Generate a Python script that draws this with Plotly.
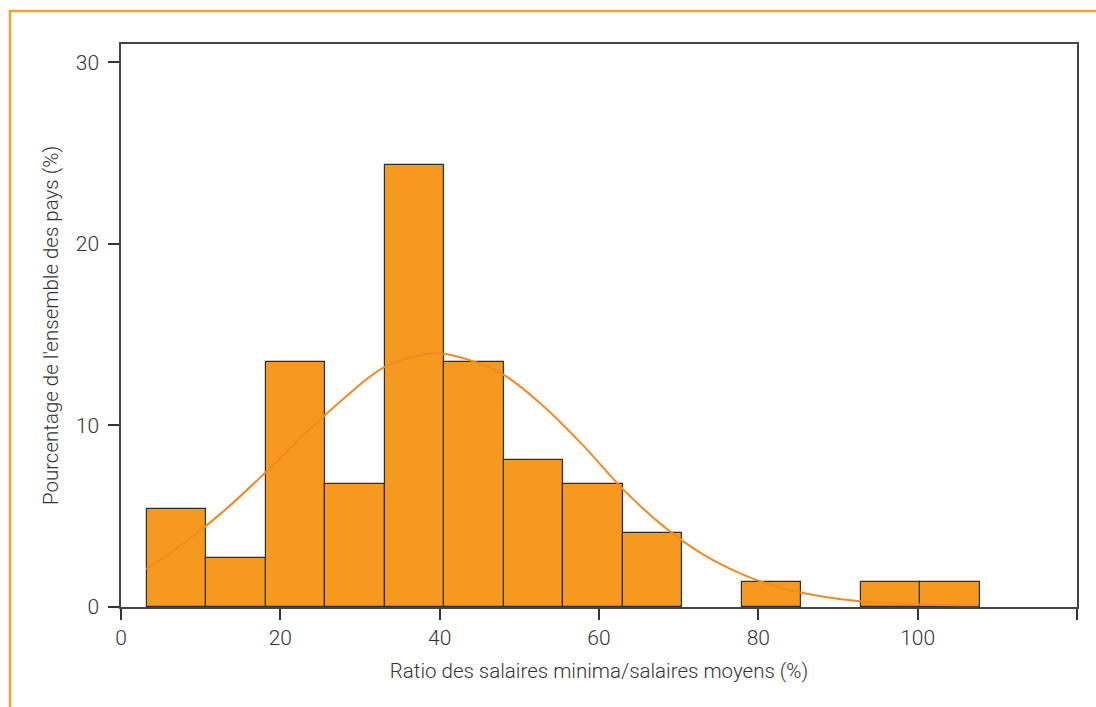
import plotly.graph_objects as go

# Histogram: share of countries (%) by minimum-wage / average-wage ratio
bin_start = 3.22          # left edge of first bin (%)
bin_width = 7.47          # width of each bin (%)
shares = [5.41, 2.70, 13.51, 6.76, 24.32, 13.51, 8.11, 6.76, 4.05, 0.0, 1.35, 0.0, 1.35, 1.35]

# Fitted density curve, sampled along the ratio axis
curve_x = [3.2, 8, 13, 18, 23, 28, 33, 38, 40, 43, 48, 53, 58, 63, 68, 73, 78, 83, 88, 93, 98, 103, 107.6]
curve_y = [2.09, 3.55, 5.32, 7.35, 9.5, 11.5, 13.2, 13.9, 13.96, 13.7, 12.8, 11.07, 8.9, 6.49, 4.48, 2.91,
           1.80, 1.03, 0.58, 0.30, 0.17, 0.11, 0.09]

x_tick_vals = [0, 20, 40, 60, 80, 100, 120]
x_tick_text = ["0", "20", "40", "60", "80", "100", ""]
y_tick_vals = [0, 10, 20, 30]

bar_fill = "#F7991F"
curve_col = "#F28A22"
frame_col = "#F8A02A"
ink = "#333333"

centers = [bin_start + (i + 0.5) * bin_width for i in range(len(shares))]
# empty bins are left undrawn
bar_heights = [v if v > 0 else None for v in shares]

fig = go.Figure()
fig.add_trace(go.Bar(
    x=centers, y=bar_heights, width=bin_width,
    marker=dict(color=bar_fill, line=dict(color="#2e2e2e", width=1.2)),
    showlegend=False,
))
fig.add_trace(go.Scatter(
    x=curve_x, y=curve_y, mode="lines",
    line=dict(color=curve_col, width=2, shape="spline", smoothing=1.0),
    showlegend=False,
))

tick_font = dict(family="Roboto", size=21, color=ink, weight=300)
title_font = dict(family="Roboto", size=20.5, color=ink, weight=300)

fig.update_layout(
    width=1096, height=707,
    margin=dict(l=121, r=19, t=44, b=100),
    paper_bgcolor="white", plot_bgcolor="white",
    font=tick_font,
    bargap=0,
    xaxis=dict(
        range=[0, 120], tickvals=x_tick_vals, ticktext=x_tick_text,
        ticks="outside", ticklen=11, tickwidth=1.5, tickcolor="#333",
        showline=True, linecolor="#444", linewidth=1.5, mirror=True,
        showgrid=False, zeroline=False, tickfont=tick_font,
        title=dict(text="Ratio des salaires minima/salaires moyens (%)",
                   font=title_font, standoff=15),
    ),
    yaxis=dict(
        range=[0, 31], tickvals=y_tick_vals,
        ticks="outside", ticklen=11, tickwidth=1.5, tickcolor="#333",
        showline=True, linecolor="#444", linewidth=1.5, mirror=True,
        showgrid=False, zeroline=False, tickfont=tick_font, ticklabelstandoff=5,
        title=dict(text="Pourcentage de l'ensemble des pays (%)",
                   font=title_font, standoff=12),
    ),
    shapes=[dict(
        type="rect", xref="paper", yref="paper",
        x0=(10 - 121) / 956, x1=1.2, y0=-0.3, y1=1 + (44 - 11) / 563,
        line=dict(color=frame_col, width=2.5), fillcolor="rgba(0,0,0,0)", layer="below",
    )],
)

fig.write_html("out.html")
